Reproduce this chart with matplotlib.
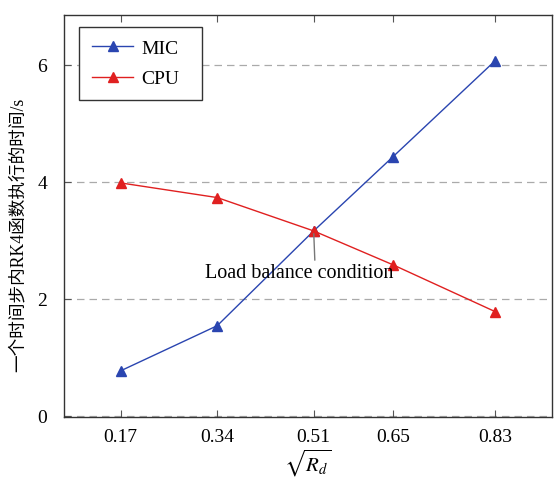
import matplotlib
matplotlib.use("Agg")
import matplotlib.pyplot as plt

x_vals = [0.17, 0.34, 0.51, 0.65, 0.83]
x_labels = ["0.17", "0.34", "0.51", "0.65", "0.83"]
mic = [0.77, 1.54, 3.16, 4.43, 6.07]
cpu = [3.98, 3.73, 3.16, 2.58, 1.78]
y_ticks = [0, 2, 4, 6]

plt.rcParams['font.family'] = ['Liberation Serif', 'Noto Sans CJK SC']
plt.rcParams['mathtext.fontset'] = 'stix'

W, H = 555, 481
fig = plt.figure(figsize=(W/100, H/100), dpi=100)
L, R, T, B = 64, 552, 16, 418
ax = fig.add_axes([L/W, 1-B/H, (R-L)/W, (B-T)/H])

for y in y_ticks:
    ax.axhline(y, color='#aaaaaa', lw=0.9, ls=(0, (6, 4)), zorder=0)

ax.plot(x_vals, mic, color='#2a45b0', lw=1.0, marker='^', ms=7, label='MIC')
ax.plot(x_vals, cpu, color='#e02020', lw=1.0, marker='^', ms=7, label='CPU')

ax.set_xlim(0.07, 0.93)
ax.set_ylim(-0.02, 6.85)
ax.set_xticks(x_vals)
ax.set_xticklabels(x_labels, fontsize=14)
ax.set_yticks(y_ticks)
ax.set_yticklabels([str(v) for v in y_ticks], fontsize=14)
ax.tick_params(axis='x', direction='in', top=True, length=5, width=0.8, color='#555555', pad=8)
ax.tick_params(axis='y', direction='in', right=False, length=5, width=0.8, color='#555555', pad=12)
for s in ax.spines.values():
    s.set_color('#333333')
    s.set_linewidth(1.0)

ax.set_xlabel(r'$\sqrt{R_d}$', fontsize=15, labelpad=1)
ax.set_ylabel('一个时间步内RK4函数执行的时间/s', fontsize=12.7)
ax.yaxis.set_label_coords((27 - L)/(R - L), 0.455)

ax.annotate('Load balance condition', xy=(0.51, 3.16), xytext=(0.484, 2.45),
            ha='center', va='center', fontsize=14.5,
            arrowprops=dict(arrowstyle='-', color='#777777', lw=1.0, shrinkA=0, shrinkB=2,
                            relpos=(0.585, 1.0)))

bx0 = (79 - L)/(R - L)
bw = (202 - 79)/(R - L)
btop = (B - 28)/(B - T)
bh = (99 - 28)/(B - T)
leg = ax.legend(loc='upper left', fontsize=14, fancybox=False, edgecolor='#333333',
                framealpha=1, borderpad=0.65, handlelength=2.15, handletextpad=0.4,
                labelspacing=0.65, borderaxespad=0, mode='expand',
                bbox_to_anchor=(bx0, btop - bh, bw, bh))
leg.get_frame().set_linewidth(1.0)

fig.savefig('out.png', dpi=100)
